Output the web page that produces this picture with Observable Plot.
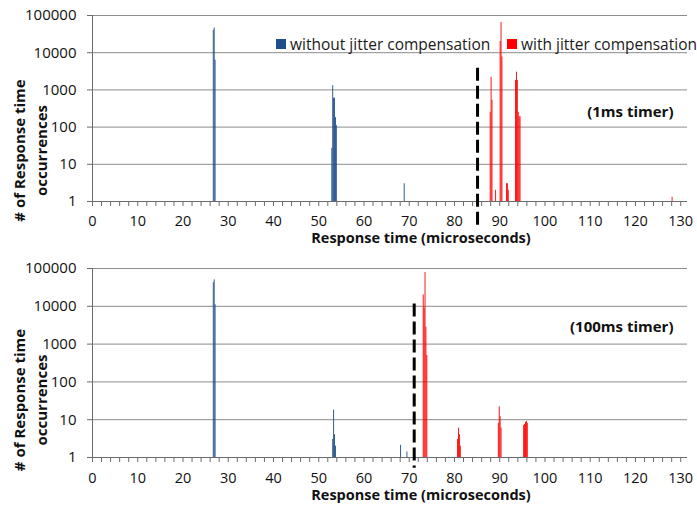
<!DOCTYPE html>
<html><head><meta charset="utf-8">
<script src="https://cdn.jsdelivr.net/npm/d3@7"></script>
<script src="https://cdn.jsdelivr.net/npm/@observablehq/plot@0.6"></script>
<style>
body{margin:0;background:#fff;}
#chart{position:relative;width:697px;height:508px;font-family:"Open Sans",sans-serif;overflow:hidden;}
.panel{position:absolute;left:0;}
.leg{position:absolute;top:33px;font-size:15.5px;color:#1a1a1a;white-space:nowrap;display:flex;align-items:center;}
.sw{display:inline-block;width:10px;height:10px;margin-right:4px;}
</style></head><body><div id="chart"></div><script>
// ---- data ----
const xLabelTicks = d3.range(0, 131, 10);
const xMinorTicks = d3.range(0, 132, 2);
const yTicks = [1, 10, 100, 1000, 10000, 100000];
const seriesNames = ["without jitter compensation", "with jitter compensation"];
const seriesColors = ["#1f4e8a", "#ff0000"];
const binWidth = 0.2;

// top panel (1ms timer)
const top1msWithoutX = [26.8, 27.0, 27.2, 53.0, 53.2, 53.4, 53.6, 53.8, 54.0, 69.0];
const top1msWithoutY = [40000, 46000, 6300, 27, 1300, 600, 600, 180, 110, 3];
const top1msWithX = [88.0, 88.2, 88.4, 89.2, 90.2, 90.4, 90.6, 91.6, 91.8, 92.0, 93.6, 93.8, 94.0, 94.2, 94.4, 94.6, 128.2];
const top1msWithY = [250, 2200, 530, 2, 20000, 65000, 7700, 3, 3, 2, 1800, 3000, 1800, 250, 190, 190, 1.3];
const top1msThreshold = 85.1;
const top1msLabel = "(1ms timer)";

// bottom panel (100ms timer)
const bot100msWithoutX = [26.8, 27.0, 27.2, 53.2, 53.4, 53.6, 53.8, 68.2, 69.6];
const bot100msWithoutY = [42000, 50000, 11000, 3, 18, 4, 2, 2.1, 1.4];
const bot100msWithX = [73.2, 73.4, 73.6, 73.8, 74.0, 80.8, 81.0, 81.2, 81.4, 89.8, 90.0, 90.2, 90.4, 95.4, 95.6, 95.8, 96.0, 96.2];
const bot100msWithY = [20000, 9000, 78000, 2800, 500, 3, 6, 4, 2, 8, 22, 12, 6, 7, 7.5, 8.5, 9, 8];
const bot100msThreshold = 71.1;
const bot100msLabel = "(100ms timer)";

const xLabel = "Response time (microseconds)";
const yLabel1 = "# of Response time";
const yLabel2 = "occurrences";

function rows(xs, ys, s) { return xs.map((x, i) => ({x, v: ys[i], s})); }

function panel(o) {
  const data = [...rows(o.wx, o.wy, seriesNames[0]), ...rows(o.rx, o.ry, seriesNames[1])];
  return Plot.plot({
    width: 697, height: o.height,
    marginTop: o.mt, marginBottom: o.mb, marginLeft: 92, marginRight: 10,
    style: {fontFamily: '"Open Sans", sans-serif', background: "transparent", overflow: "visible"},
    x: {domain: [0, 131.5], axis: null},
    y: {type: "log", domain: [1, 100000], axis: null},
    color: {domain: seriesNames, range: seriesColors},
    marks: [
      Plot.gridY(yTicks, {stroke: "#8c8c8c", strokeOpacity: 1}),
      Plot.rect(data, {x1: d => d.x - binWidth / 2, x2: d => d.x + binWidth / 2, y1: 1, y2: "v", fill: "s", inset: 0}),
      Plot.ruleY([1], {stroke: "#6b6b6b"}),
      Plot.ruleX([0], {stroke: "#6b6b6b"}),
      Plot.axisY(yTicks, {anchor: "left", tickSize: 5, tickPadding: 11, fontSize: 15, stroke: "#6b6b6b", fill: "#111", tickFormat: d => String(d), label: null}),
      Plot.axisX(xMinorTicks, {anchor: "bottom", tickSize: 5, stroke: "#6b6b6b", tickFormat: () => "", label: null}),
      Plot.axisX(xLabelTicks, {anchor: "bottom", tickSize: 0, tickPadding: o.xpad, fontSize: 14.5, fill: "#111", label: null}),
      Plot.text([xLabel], {frameAnchor: "bottom", textAnchor: "middle", dx: 31, dy: o.titleDy, fontSize: 14.5, fontWeight: "bold", fill: "#111"}),
      Plot.text([yLabel1], {frameAnchor: "left", textAnchor: "middle", rotate: -90, dx: -72, dy: o.ydy, fontSize: 15, fontWeight: "bold", fill: "#111"}),
      Plot.text([yLabel2], {frameAnchor: "left", textAnchor: "middle", rotate: -90, dx: -50, dy: o.ydy, fontSize: 15, fontWeight: "bold", fill: "#111"}),
      Plot.text([o.label], {frameAnchor: "top-right", textAnchor: "end", dx: -14, dy: o.labelDy, fontSize: 15, fontWeight: "bold", fill: "#111"}),
      Plot.ruleX([o.threshold], {y1: o.dashTop, y2: o.dashBottom, stroke: "#000", strokeWidth: 3, strokeDasharray: "13,5", clip: false})
    ]
  });
}

const chart = document.getElementById("chart");
const p1 = panel({height: 250, mt: 15, mb: 49, xpad: 14, titleDy: 41, ydy: 42, labelDy: 91,
  wx: top1msWithoutX, wy: top1msWithoutY, rx: top1msWithX, ry: top1msWithY,
  threshold: top1msThreshold, dashTop: 3800, dashBottom: 0.21, label: top1msLabel});
p1.classList.add("panel"); p1.style.top = "0px";
const p2 = panel({height: 258, mt: 18, mb: 51, xpad: 15, titleDy: 42, ydy: 37, labelDy: 53,
  wx: bot100msWithoutX, wy: bot100msWithoutY, rx: bot100msWithX, ry: bot100msWithY,
  threshold: bot100msThreshold, dashTop: 11500, dashBottom: 0.52, label: bot100msLabel});
p2.classList.add("panel"); p2.style.top = "250px";
chart.appendChild(p1); chart.appendChild(p2);

// legend
const legLeft = [276, 507];
seriesNames.forEach((n, i) => {
  const d = document.createElement("div");
  d.className = "leg"; d.style.left = legLeft[i] + "px";
  d.innerHTML = `<span class="sw" style="background:${seriesColors[i]}"></span><span></span>`;
  d.lastChild.textContent = n;
  chart.appendChild(d);
});
</script></body></html>
